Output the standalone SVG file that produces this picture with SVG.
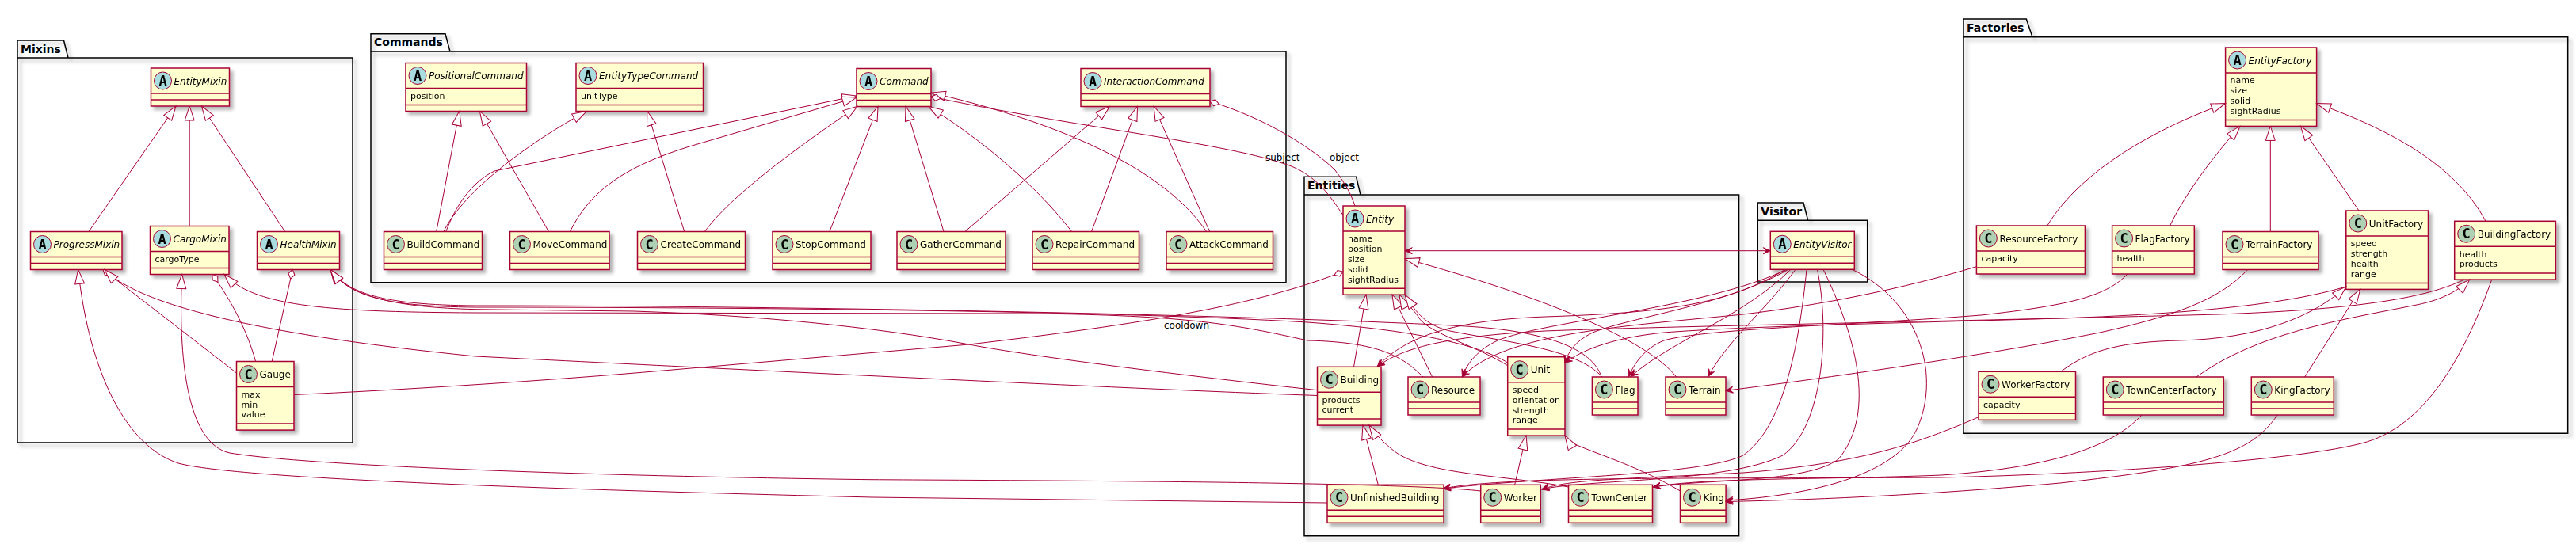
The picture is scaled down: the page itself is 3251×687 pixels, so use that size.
<svg xmlns="http://www.w3.org/2000/svg" width="3251" height="687" viewBox="0 0 3251 687">
<defs>
<style>
.box{fill:#FEFECE;stroke:#A80036;stroke-width:1.5}
.sep{stroke:#A80036;stroke-width:1.5}
.spC{fill:#ADD1B2;stroke:#A80036;stroke-width:1}
.spA{fill:#A9DCDF;stroke:#A80036;stroke-width:1}
.sl{font-family:"DejaVu Sans Mono",monospace;font-weight:bold;font-size:17px;text-anchor:middle;fill:#000}
.nm{font-family:"DejaVu Sans",sans-serif;font-size:12px;fill:#000}
.ab{font-style:italic}
.at{font-family:"DejaVu Sans",sans-serif;font-size:11px;fill:#000}
.pkg{fill:none;stroke:#000;stroke-width:1.5}
.pl{font-family:"DejaVu Sans",sans-serif;font-size:14px;font-weight:bold;fill:#000}
.ln{fill:none;stroke:#A80036;stroke-width:1}
.ext{marker-end:url(#tri)}
.agg{marker-start:url(#dia)}
.dep{marker-end:url(#arr)}
.bi{marker-start:url(#arr);marker-end:url(#arr)}
.lbl{font-family:"DejaVu Sans",sans-serif;font-size:12px;fill:#000}
</style>
<filter id="sh" x="-20%" y="-20%" width="140%" height="140%">
<feGaussianBlur in="SourceAlpha" stdDeviation="2" result="b"/>
<feOffset in="b" dx="4" dy="4" result="o"/>
<feFlood flood-color="#000" flood-opacity="0.3"/>
<feComposite in2="o" operator="in"/>
<feMerge><feMergeNode/><feMergeNode in="SourceGraphic"/></feMerge>
</filter>
<marker id="tri" markerUnits="userSpaceOnUse" markerWidth="20" markerHeight="14" refX="18" refY="7" orient="auto" overflow="visible"><path d="M0,1 L18,7 L0,13 Z" fill="#fff" stroke="#A80036" stroke-width="1"/></marker>
<marker id="dia" markerUnits="userSpaceOnUse" markerWidth="14" markerHeight="10" refX="0" refY="4" orient="auto" overflow="visible"><path d="M0,4 L6,0 L12,4 L6,8 Z" fill="#fff" stroke="#A80036" stroke-width="1"/></marker>
<marker id="arr" markerUnits="userSpaceOnUse" markerWidth="10" markerHeight="8" refX="9" refY="4" orient="auto-start-reverse" overflow="visible"><path d="M0,0 L9,4 L0,8 L4,4 Z" fill="#A80036" stroke="#A80036" stroke-width="1"/></marker>
</defs>
<rect width="3251" height="687" fill="#fff"/>

<g id="pkg_Mixins"><path class="pkg" filter="url(#sh)" d="M22,51 L80.5,51 L86,73 L445,73 L445,559 L22,559 Z M22,73 L86,73"/><text class="pl" x="26" y="66.5">Mixins</text></g>
<g id="pkg_Commands"><path class="pkg" filter="url(#sh)" d="M468,42.7 L562,42.7 L568,65 L1623,65 L1623,356.7 L468,356.7 Z M468,65 L568,65"/><text class="pl" x="472" y="58.2">Commands</text></g>
<g id="pkg_Entities"><path class="pkg" filter="url(#sh)" d="M1646,223.3 L1711.6,223.3 L1717,246 L2194.6,246 L2194.6,676.7 L1646,676.7 Z M1646,246 L1717,246"/><text class="pl" x="1650" y="238.8">Entities</text></g>
<g id="pkg_Visitor"><path class="pkg" filter="url(#sh)" d="M2218.3,256 L2276,256 L2281.7,278.3 L2356.7,278.3 L2356.7,356 L2218.3,356 Z M2218.3,278.3 L2281.7,278.3"/><text class="pl" x="2222.3" y="271.5">Visitor</text></g>
<g id="pkg_Factories"><path class="pkg" filter="url(#sh)" d="M2478,24 L2557.3,24 L2565,46.7 L3240.7,46.7 L3240.7,547.3 L2478,547.3 Z M2478,46.7 L2565,46.7"/><text class="pl" x="2482" y="39.5">Factories</text></g>

<!-- Mixins -->
<g id="EntityMixin" filter="url(#sh)"><rect class="box" x="190.5" y="86" width="99" height="48"/><line class="sep" x1="190.5" y1="118" x2="289.5" y2="118"/><line class="sep" x1="190.5" y1="126" x2="289.5" y2="126"/><circle class="spA" cx="205.5" cy="102" r="11"/><text class="sl" x="205.5" y="108">A</text><text class="nm ab" x="219.5" y="106.5">EntityMixin</text></g>
<g id="ProgressMixin" filter="url(#sh)"><rect class="box" x="38.5" y="292.5" width="115.5" height="48"/><line class="sep" x1="38.5" y1="324.5" x2="154" y2="324.5"/><line class="sep" x1="38.5" y1="332.5" x2="154" y2="332.5"/><circle class="spA" cx="53.5" cy="308.5" r="11"/><text class="sl" x="53.5" y="314.5">A</text><text class="nm ab" x="67.5" y="313">ProgressMixin</text></g>
<g id="CargoMixin" filter="url(#sh)"><rect class="box" x="189.5" y="285.5" width="99.5" height="61"/><line class="sep" x1="189.5" y1="317.5" x2="289" y2="317.5"/><line class="sep" x1="189.5" y1="338.5" x2="289" y2="338.5"/><circle class="spA" cx="204.5" cy="301.5" r="11"/><text class="sl" x="204.5" y="307.5">A</text><text class="nm ab" x="218.5" y="306">CargoMixin</text><text class="at" x="195.5" y="330.8">cargoType</text></g>
<g id="HealthMixin" filter="url(#sh)"><rect class="box" x="324.5" y="292.5" width="104" height="48"/><line class="sep" x1="324.5" y1="324.5" x2="428.5" y2="324.5"/><line class="sep" x1="324.5" y1="332.5" x2="428.5" y2="332.5"/><circle class="spA" cx="339.5" cy="308.5" r="11"/><text class="sl" x="339.5" y="314.5">A</text><text class="nm ab" x="353.5" y="313">HealthMixin</text></g>
<g id="Gauge" filter="url(#sh)"><rect class="box" x="298.5" y="456.5" width="72.5" height="86.6"/><line class="sep" x1="298.5" y1="488.5" x2="371" y2="488.5"/><line class="sep" x1="298.5" y1="535.1" x2="371" y2="535.1"/><circle class="spC" cx="313.5" cy="472.5" r="11"/><text class="sl" x="313.5" y="478.5">C</text><text class="nm" x="327.5" y="477">Gauge</text><text class="at" x="304.5" y="501.8">max</text><text class="at" x="304.5" y="514.6">min</text><text class="at" x="304.5" y="527.4">value</text></g>

<!-- Commands -->
<g id="PositionalCommand" filter="url(#sh)"><rect class="box" x="512" y="79.5" width="152.5" height="61"/><line class="sep" x1="512" y1="111.5" x2="664.5" y2="111.5"/><line class="sep" x1="512" y1="132.5" x2="664.5" y2="132.5"/><circle class="spA" cx="527" cy="95.5" r="11"/><text class="sl" x="527" y="101.5">A</text><text class="nm ab" x="541" y="100">PositionalCommand</text><text class="at" x="518" y="124.8">position</text></g>
<g id="EntityTypeCommand" filter="url(#sh)"><rect class="box" x="727" y="79.5" width="160.5" height="61"/><line class="sep" x1="727" y1="111.5" x2="887.5" y2="111.5"/><line class="sep" x1="727" y1="132.5" x2="887.5" y2="132.5"/><circle class="spA" cx="742" cy="95.5" r="11"/><text class="sl" x="742" y="101.5">A</text><text class="nm ab" x="756" y="100">EntityTypeCommand</text><text class="at" x="733" y="124.8">unitType</text></g>
<g id="Command" filter="url(#sh)"><rect class="box" x="1081" y="86.5" width="94" height="48"/><line class="sep" x1="1081" y1="118.5" x2="1175" y2="118.5"/><line class="sep" x1="1081" y1="126.5" x2="1175" y2="126.5"/><circle class="spA" cx="1096" cy="102.5" r="11"/><text class="sl" x="1096" y="108.5">A</text><text class="nm ab" x="1110" y="107">Command</text></g>
<g id="InteractionCommand" filter="url(#sh)"><rect class="box" x="1364" y="86.5" width="163" height="48"/><line class="sep" x1="1364" y1="118.5" x2="1527" y2="118.5"/><line class="sep" x1="1364" y1="126.5" x2="1527" y2="126.5"/><circle class="spA" cx="1379" cy="102.5" r="11"/><text class="sl" x="1379" y="108.5">A</text><text class="nm ab" x="1393" y="107">InteractionCommand</text></g>
<g id="BuildCommand" filter="url(#sh)"><rect class="box" x="484.5" y="292.5" width="124" height="48"/><line class="sep" x1="484.5" y1="324.5" x2="608.5" y2="324.5"/><line class="sep" x1="484.5" y1="332.5" x2="608.5" y2="332.5"/><circle class="spC" cx="499.5" cy="308.5" r="11"/><text class="sl" x="499.5" y="314.5">C</text><text class="nm" x="513.5" y="313">BuildCommand</text></g>
<g id="MoveCommand" filter="url(#sh)"><rect class="box" x="643.5" y="292.5" width="125.5" height="48"/><line class="sep" x1="643.5" y1="324.5" x2="769" y2="324.5"/><line class="sep" x1="643.5" y1="332.5" x2="769" y2="332.5"/><circle class="spC" cx="658.5" cy="308.5" r="11"/><text class="sl" x="658.5" y="314.5">C</text><text class="nm" x="672.5" y="313">MoveCommand</text></g>
<g id="CreateCommand" filter="url(#sh)"><rect class="box" x="804.5" y="292.5" width="136" height="48"/><line class="sep" x1="804.5" y1="324.5" x2="940.5" y2="324.5"/><line class="sep" x1="804.5" y1="332.5" x2="940.5" y2="332.5"/><circle class="spC" cx="819.5" cy="308.5" r="11"/><text class="sl" x="819.5" y="314.5">C</text><text class="nm" x="833.5" y="313">CreateCommand</text></g>
<g id="StopCommand" filter="url(#sh)"><rect class="box" x="975" y="292.5" width="124" height="48"/><line class="sep" x1="975" y1="324.5" x2="1099" y2="324.5"/><line class="sep" x1="975" y1="332.5" x2="1099" y2="332.5"/><circle class="spC" cx="990" cy="308.5" r="11"/><text class="sl" x="990" y="314.5">C</text><text class="nm" x="1004" y="313">StopCommand</text></g>
<g id="GatherCommand" filter="url(#sh)"><rect class="box" x="1132" y="292.5" width="137" height="48"/><line class="sep" x1="1132" y1="324.5" x2="1269" y2="324.5"/><line class="sep" x1="1132" y1="332.5" x2="1269" y2="332.5"/><circle class="spC" cx="1147" cy="308.5" r="11"/><text class="sl" x="1147" y="314.5">C</text><text class="nm" x="1161" y="313">GatherCommand</text></g>
<g id="RepairCommand" filter="url(#sh)"><rect class="box" x="1303" y="292.5" width="134.5" height="48"/><line class="sep" x1="1303" y1="324.5" x2="1437.5" y2="324.5"/><line class="sep" x1="1303" y1="332.5" x2="1437.5" y2="332.5"/><circle class="spC" cx="1318" cy="308.5" r="11"/><text class="sl" x="1318" y="314.5">C</text><text class="nm" x="1332" y="313">RepairCommand</text></g>
<g id="AttackCommand" filter="url(#sh)"><rect class="box" x="1472" y="292.5" width="134.5" height="48"/><line class="sep" x1="1472" y1="324.5" x2="1606.5" y2="324.5"/><line class="sep" x1="1472" y1="332.5" x2="1606.5" y2="332.5"/><circle class="spC" cx="1487" cy="308.5" r="11"/><text class="sl" x="1487" y="314.5">C</text><text class="nm" x="1501" y="313">AttackCommand</text></g>

<!-- Entities -->
<g id="Entity" filter="url(#sh)"><rect class="box" x="1695" y="260" width="78" height="112.2"/><line class="sep" x1="1695" y1="292" x2="1773" y2="292"/><line class="sep" x1="1695" y1="364.2" x2="1773" y2="364.2"/><circle class="spA" cx="1710" cy="276" r="11"/><text class="sl" x="1710" y="282">A</text><text class="nm ab" x="1724" y="280.5">Entity</text><text class="at" x="1701" y="305.3">name</text><text class="at" x="1701" y="318.1">position</text><text class="at" x="1701" y="330.9">size</text><text class="at" x="1701" y="343.7">solid</text><text class="at" x="1701" y="356.5">sightRadius</text></g>
<g id="Building" filter="url(#sh)"><rect class="box" x="1662.5" y="463.3" width="80.5" height="73.8"/><line class="sep" x1="1662.5" y1="495.3" x2="1743" y2="495.3"/><line class="sep" x1="1662.5" y1="529.1" x2="1743" y2="529.1"/><circle class="spC" cx="1677.5" cy="479.3" r="11"/><text class="sl" x="1677.5" y="485.3">C</text><text class="nm" x="1691.5" y="483.8">Building</text><text class="at" x="1668.5" y="508.6">products</text><text class="at" x="1668.5" y="521.4">current</text></g>
<g id="Resource" filter="url(#sh)"><rect class="box" x="1777" y="476" width="91" height="48"/><line class="sep" x1="1777" y1="508" x2="1868" y2="508"/><line class="sep" x1="1777" y1="516" x2="1868" y2="516"/><circle class="spC" cx="1792" cy="492" r="11"/><text class="sl" x="1792" y="498">C</text><text class="nm" x="1806" y="496.5">Resource</text></g>
<g id="Unit" filter="url(#sh)"><rect class="box" x="1902.7" y="450.7" width="72.3" height="99.4"/><line class="sep" x1="1902.7" y1="482.7" x2="1975" y2="482.7"/><line class="sep" x1="1902.7" y1="542.1" x2="1975" y2="542.1"/><circle class="spC" cx="1917.7" cy="466.7" r="11"/><text class="sl" x="1917.7" y="472.7">C</text><text class="nm" x="1931.7" y="471.2">Unit</text><text class="at" x="1908.7" y="496">speed</text><text class="at" x="1908.7" y="508.8">orientation</text><text class="at" x="1908.7" y="521.6">strength</text><text class="at" x="1908.7" y="534.4">range</text></g>
<g id="Flag" filter="url(#sh)"><rect class="box" x="2009.4" y="476" width="57.6" height="48"/><line class="sep" x1="2009.4" y1="508" x2="2067" y2="508"/><line class="sep" x1="2009.4" y1="516" x2="2067" y2="516"/><circle class="spC" cx="2024.4" cy="492" r="11"/><text class="sl" x="2024.4" y="498">C</text><text class="nm" x="2038.4" y="496.5">Flag</text></g>
<g id="Terrain" filter="url(#sh)"><rect class="box" x="2102" y="476" width="76" height="48"/><line class="sep" x1="2102" y1="508" x2="2178" y2="508"/><line class="sep" x1="2102" y1="516" x2="2178" y2="516"/><circle class="spC" cx="2117" cy="492" r="11"/><text class="sl" x="2117" y="498">C</text><text class="nm" x="2131" y="496.5">Terrain</text></g>
<g id="UnfinishedBuilding" filter="url(#sh)"><rect class="box" x="1675" y="612.3" width="147" height="48"/><line class="sep" x1="1675" y1="644.3" x2="1822" y2="644.3"/><line class="sep" x1="1675" y1="652.3" x2="1822" y2="652.3"/><circle class="spC" cx="1690" cy="628.3" r="11"/><text class="sl" x="1690" y="634.3">C</text><text class="nm" x="1704" y="632.8">UnfinishedBuilding</text></g>
<g id="Worker" filter="url(#sh)"><rect class="box" x="1868.7" y="612.3" width="75.5" height="48"/><line class="sep" x1="1868.7" y1="644.3" x2="1944.2" y2="644.3"/><line class="sep" x1="1868.7" y1="652.3" x2="1944.2" y2="652.3"/><circle class="spC" cx="1883.7" cy="628.3" r="11"/><text class="sl" x="1883.7" y="634.3">C</text><text class="nm" x="1897.7" y="632.8">Worker</text></g>
<g id="TownCenter" filter="url(#sh)"><rect class="box" x="1979.5" y="612.3" width="106" height="48"/><line class="sep" x1="1979.5" y1="644.3" x2="2085.5" y2="644.3"/><line class="sep" x1="1979.5" y1="652.3" x2="2085.5" y2="652.3"/><circle class="spC" cx="1994.5" cy="628.3" r="11"/><text class="sl" x="1994.5" y="634.3">C</text><text class="nm" x="2008.5" y="632.8">TownCenter</text></g>
<g id="King" filter="url(#sh)"><rect class="box" x="2120.5" y="612.3" width="57.6" height="48"/><line class="sep" x1="2120.5" y1="644.3" x2="2178.1" y2="644.3"/><line class="sep" x1="2120.5" y1="652.3" x2="2178.1" y2="652.3"/><circle class="spC" cx="2135.5" cy="628.3" r="11"/><text class="sl" x="2135.5" y="634.3">C</text><text class="nm" x="2149.5" y="632.8">King</text></g>

<!-- Visitor -->
<g id="EntityVisitor" filter="url(#sh)"><rect class="box" x="2234.3" y="292.3" width="106" height="48"/><line class="sep" x1="2234.3" y1="324.3" x2="2340.3" y2="324.3"/><line class="sep" x1="2234.3" y1="332.3" x2="2340.3" y2="332.3"/><circle class="spA" cx="2249.3" cy="308.3" r="11"/><text class="sl" x="2249.3" y="314.3">A</text><text class="nm ab" x="2263.3" y="312.8">EntityVisitor</text></g>

<!-- Factories -->
<g id="EntityFactory" filter="url(#sh)"><rect class="box" x="2808.6" y="60" width="115" height="99.4"/><line class="sep" x1="2808.6" y1="92" x2="2923.6" y2="92"/><line class="sep" x1="2808.6" y1="151.4" x2="2923.6" y2="151.4"/><circle class="spA" cx="2823.6" cy="76" r="11"/><text class="sl" x="2823.6" y="82">A</text><text class="nm ab" x="2837.6" y="80.5">EntityFactory</text><text class="at" x="2814.6" y="105.3">name</text><text class="at" x="2814.6" y="118.1">size</text><text class="at" x="2814.6" y="130.9">solid</text><text class="at" x="2814.6" y="143.7">sightRadius</text></g>
<g id="ResourceFactory" filter="url(#sh)"><rect class="box" x="2494.4" y="285" width="137" height="61"/><line class="sep" x1="2494.4" y1="317" x2="2631.4" y2="317"/><line class="sep" x1="2494.4" y1="338" x2="2631.4" y2="338"/><circle class="spC" cx="2509.4" cy="301" r="11"/><text class="sl" x="2509.4" y="307">C</text><text class="nm" x="2523.4" y="305.5">ResourceFactory</text><text class="at" x="2500.4" y="330.3">capacity</text></g>
<g id="FlagFactory" filter="url(#sh)"><rect class="box" x="2665.6" y="285" width="103.7" height="61"/><line class="sep" x1="2665.6" y1="317" x2="2769.3" y2="317"/><line class="sep" x1="2665.6" y1="338" x2="2769.3" y2="338"/><circle class="spC" cx="2680.6" cy="301" r="11"/><text class="sl" x="2680.6" y="307">C</text><text class="nm" x="2694.6" y="305.5">FlagFactory</text><text class="at" x="2671.6" y="330.3">health</text></g>
<g id="TerrainFactory" filter="url(#sh)"><rect class="box" x="2805" y="292.5" width="121" height="48"/><line class="sep" x1="2805" y1="324.5" x2="2926" y2="324.5"/><line class="sep" x1="2805" y1="332.5" x2="2926" y2="332.5"/><circle class="spC" cx="2820" cy="308.5" r="11"/><text class="sl" x="2820" y="314.5">C</text><text class="nm" x="2834" y="313">TerrainFactory</text></g>
<g id="UnitFactory" filter="url(#sh)"><rect class="box" x="2960.8" y="266" width="103.7" height="99.4"/><line class="sep" x1="2960.8" y1="298" x2="3064.5" y2="298"/><line class="sep" x1="2960.8" y1="357.4" x2="3064.5" y2="357.4"/><circle class="spC" cx="2975.8" cy="282" r="11"/><text class="sl" x="2975.8" y="288">C</text><text class="nm" x="2989.8" y="286.5">UnitFactory</text><text class="at" x="2966.8" y="311.3">speed</text><text class="at" x="2966.8" y="324.1">strength</text><text class="at" x="2966.8" y="336.9">health</text><text class="at" x="2966.8" y="349.7">range</text></g>
<g id="BuildingFactory" filter="url(#sh)"><rect class="box" x="3097.7" y="279.3" width="127.7" height="73.8"/><line class="sep" x1="3097.7" y1="311.3" x2="3225.4" y2="311.3"/><line class="sep" x1="3097.7" y1="345.1" x2="3225.4" y2="345.1"/><circle class="spC" cx="3112.7" cy="295.3" r="11"/><text class="sl" x="3112.7" y="301.3">C</text><text class="nm" x="3126.7" y="299.8">BuildingFactory</text><text class="at" x="3103.7" y="324.6">health</text><text class="at" x="3103.7" y="337.4">products</text></g>
<g id="WorkerFactory" filter="url(#sh)"><rect class="box" x="2497" y="469.3" width="122.5" height="61"/><line class="sep" x1="2497" y1="501.3" x2="2619.5" y2="501.3"/><line class="sep" x1="2497" y1="522.3" x2="2619.5" y2="522.3"/><circle class="spC" cx="2512" cy="485.3" r="11"/><text class="sl" x="2512" y="491.3">C</text><text class="nm" x="2526" y="489.8">WorkerFactory</text><text class="at" x="2503" y="514.6">capacity</text></g>
<g id="TownCenterFactory" filter="url(#sh)"><rect class="box" x="2654.3" y="476" width="152" height="48"/><line class="sep" x1="2654.3" y1="508" x2="2806.3" y2="508"/><line class="sep" x1="2654.3" y1="516" x2="2806.3" y2="516"/><circle class="spC" cx="2669.3" cy="492" r="11"/><text class="sl" x="2669.3" y="498">C</text><text class="nm" x="2683.3" y="496.5">TownCenterFactory</text></g>
<g id="KingFactory" filter="url(#sh)"><rect class="box" x="2841.3" y="476" width="104" height="48"/><line class="sep" x1="2841.3" y1="508" x2="2945.3" y2="508"/><line class="sep" x1="2841.3" y1="516" x2="2945.3" y2="516"/><circle class="spC" cx="2856.3" cy="492" r="11"/><text class="sl" x="2856.3" y="498">C</text><text class="nm" x="2870.3" y="496.5">KingFactory</text></g>

<g id="connectors">
<!-- Mixins -->
<path class="ln ext" d="M112,292.5 L222,134"/>
<path class="ln ext" d="M239.2,285.5 L239.2,134"/>
<path class="ln ext" d="M359.7,292.5 L254.5,134"/>
<path class="ln agg" d="M369.3,340.5 L343.2,456.5"/>
<path class="ln agg" d="M267.9,346.5 C285,370 310,410 322.6,456.5"/>
<path class="ln agg" d="M130,340.5 L298.5,471"/>
<!-- Commands -->
<path class="ln ext" d="M550.7,292.5 L579.7,140.5"/>
<path class="ln ext" d="M692.5,292.5 L605.5,140.5"/>
<path class="ln ext" d="M559.9,292.5 C580,250 650,190 740.2,140.5"/>
<path class="ln ext" d="M863.7,292.5 L816.9,140.5"/>
<path class="ln ext" d="M562.8,292.5 C575,260 595,230 624,216 L1081,121"/>
<path class="ln ext" d="M719.4,292.5 C745,240 790,210 870,185 L1081,123"/>
<path class="ln ext" d="M889.4,292.5 C920,250 1000,190 1082,134.5"/>
<path class="ln ext" d="M1046.9,292.5 L1108,134.5"/>
<path class="ln ext" d="M1191,292.5 L1143,134.5"/>
<path class="ln ext" d="M1352.6,292.5 C1320,250 1260,190 1172,134.5"/>
<path class="ln ext" d="M1522.6,292.5 C1480,230 1380,165 1175.2,117"/>
<path class="ln ext" d="M1217.9,292.5 L1400.3,134.5"/>
<path class="ln ext" d="M1377.5,292.5 L1435.5,134.5"/>
<path class="ln ext" d="M1526.7,292.5 L1456.2,134.5"/>
<path class="ln agg" d="M1175.2,122 C1350,160 1550,180 1630,210 C1665,225 1680,250 1695,271.7"/>
<path class="ln agg" d="M1527,128 C1600,150 1660,190 1685,215 C1698,232 1705,245 1710,260"/>
<text class="lbl" x="1597" y="202.5">subject</text>
<text class="lbl" x="1678" y="202.5">object</text>
<!-- Entities internal -->
<path class="ln ext" d="M1708.5,463.3 L1724,372.2"/>
<path class="ln ext" d="M1807.6,476 L1757,372.2"/>
<path class="ln ext" d="M1902.7,461.7 C1860,435 1800,420 1790,400 C1782,388 1770,380 1766,372.2"/>
<path class="ln ext" d="M2021.9,476 C1990,440 1900,432 1830,418 C1795,410 1785,390 1773,372.2"/>
<path class="ln ext" d="M2115.6,476 C2080,430 1950,375 1773.2,326.7"/>
<path class="ln ext" d="M1739.3,612.3 L1720,537.1"/>
<path class="ln ext" d="M1979.5,615 C1900,600 1800,600 1760,570 C1745,558 1735,548 1728,537.1"/>
<path class="ln ext" d="M1911.6,612.3 L1926,550.1"/>
<path class="ln ext" d="M2120.5,620 C2070,590 2020,575 1990,562 C1982,558 1978,555 1975,550.1"/>
<path class="ln bi" d="M1773.2,316.7 L2234.3,316.7"/>
<!-- Mixins to Entities -->
<path class="ln ext" d="M1662.5,499.5 C1450,492 1000,470 600,450 C300,420 170,380 132,340.5"/>
<path class="ln ext" d="M1675,635 L1100,628 C700,618 300,605 225,585 C150,560 110,450 98.7,340.5"/>
<path class="ln ext" d="M1868.7,620 C1760,608 1300,607 1100,605.7 C800,602 400,590 290,572 C235,560 225,450 229.6,346.5"/>
<path class="ln ext" d="M1796,476 C1770,450 1740,432 1650,430 C1560,410 1500,398 1300,396 L600,395 C400,394 320,385 283,346.5"/>
<path class="ln ext" d="M1662.5,492.7 C1500,475 1300,450 1223,435 C1100,412 950,398 800,393 L600,390.7 C500,388 440,375 417,340.5"/>
<path class="ln ext" d="M1902.7,458 C1870,438 1800,418 1650,407 C1400,392 900,388 600,388 C480,387 440,372 417,340.5"/>
<path class="ln ext" d="M2021,476 C2010,440 1950,418 1850,412 C1600,398 1000,386 600,386 C480,385 440,370 417,340.5"/>
<path class="ln agg" d="M1695,343 C1600,380 1480,405 1223,435 L837,468 C700,480 500,493 371,498.5"/>
<text class="lbl" x="1469" y="415">cooldown</text>
<!-- Visitor to Entities -->
<path class="ln dep" d="M2253,340.3 C2180,385 2100,395 1950,400 C1820,405 1770,430 1738.4,462.7"/>
<path class="ln dep" d="M2255,340.3 C2150,390 1950,405 1890,430 C1865,442 1852,458 1845.5,475.5"/>
<path class="ln dep" d="M2257,340.3 C2180,385 2060,400 2010,420 C1990,430 1980,442 1975,458"/>
<path class="ln dep" d="M2260,340.3 C2200,400 2110,430 2058,475.5"/>
<path class="ln dep" d="M2266,340.3 C2230,390 2180,430 2155.8,475.5"/>
<path class="ln dep" d="M2280,340.3 C2270,440 2250,540 2200,575 C2150,600 1950,602 1821.9,617"/>
<path class="ln dep" d="M2293.5,340.3 C2310,420 2300,540 2250,575 C2180,610 2000,605 1946,618"/>
<path class="ln dep" d="M2301,340.3 C2340,420 2370,520 2320,580 C2280,610 2150,605 2086.6,615"/>
<path class="ln dep" d="M2337.5,340.3 C2420,380 2450,470 2420,540 C2390,610 2250,628 2178.1,632"/>
<!-- Factories to Entities -->
<path class="ln dep" d="M2494.4,336.7 C2400,365 2300,385 2200,397 C2050,412 1900,420 1845.5,475.5"/>
<path class="ln dep" d="M2685,346 C2660,372 2620,385 2500,398 C2350,410 2150,415 2100,430 C2075,440 2062,460 2055.4,475.5"/>
<path class="ln dep" d="M2836.7,340.5 C2800,380 2740,400 2650,420 C2500,450 2300,478 2178.1,493.3"/>
<path class="ln dep" d="M2960.8,362 C2900,380 2800,395 2600,402 C2400,408 2200,412 2100,420 C2040,426 2000,440 1975,458"/>
<path class="ln dep" d="M3110,353.1 C3070,372 3000,390 2800,397 C2500,405 2100,412 1950,418 C1820,425 1770,440 1738.4,462.7"/>
<path class="ln dep" d="M3144.7,353.1 C3110,450 3060,540 2980,560 C2880,585 2600,600 2450,603 C2200,605 1900,600 1821.9,617"/>
<path class="ln dep" d="M2497,526.7 C2420,560 2350,585 2200,597 C2050,605 1980,605 1946,618"/>
<path class="ln dep" d="M2703,524 C2670,560 2600,590 2450,600 C2300,606 2150,603 2086.6,615"/>
<path class="ln dep" d="M2874,524 C2840,575 2780,590 2600,610 C2400,628 2250,632 2178.1,633.5"/>
<!-- Factories inheritance -->
<path class="ln ext" d="M2583.8,285 C2620,225 2700,170 2808.6,130.5"/>
<path class="ln ext" d="M2738.6,285 C2760,240 2800,190 2827,159.4"/>
<path class="ln ext" d="M2865.3,292.5 L2865.3,159.4"/>
<path class="ln ext" d="M2977,266 L2903.6,159.4"/>
<path class="ln ext" d="M3137,279.3 C3100,210 3020,165 2923.6,130.5"/>
<path class="ln ext" d="M2600.7,469.3 C2640,440 2680,432 2750,430 C2850,428 2920,400 2960.8,362"/>
<path class="ln ext" d="M2908.7,476 L2978.7,365.4"/>
<path class="ln ext" d="M2771.8,476 C2850,420 2950,405 3050,385 C3085,378 3105,365 3116.6,353.1"/>
</g>
</svg>
